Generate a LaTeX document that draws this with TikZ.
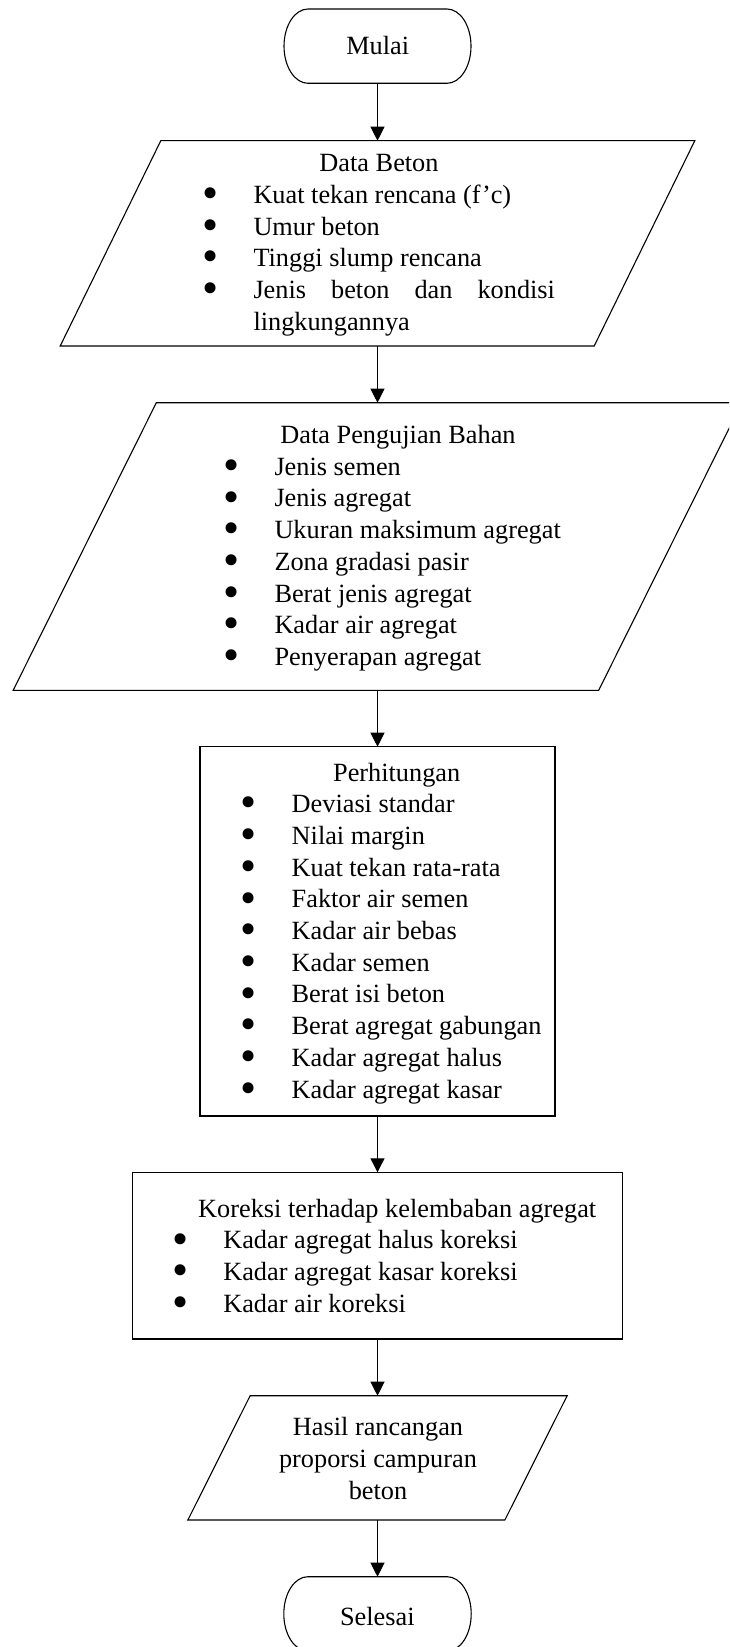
\documentclass[tikz,border=0pt]{standalone}
\usepackage{fontspec}
\setmainfont{Liberation Serif}
\usetikzlibrary{calc,arrows.meta}
\tikzset{
  base/.style={inner sep=0pt, outer sep=0pt},
  shapebox/.style={base, draw=none, rectangle},
  procbox/.style={base, draw, line width=0.55pt, rectangle},
  txt/.style={inner sep=0pt, outer sep=0pt, font=\fontsize{13.15pt}{15.85pt}\selectfont},
  outline/.style={draw, line width=0.55pt},
  flow/.style={draw, line width=0.55pt, -{Triangle[length=7pt,width=7pt]}},
}
\newcommand{\parashape}[2]{\path[outline] ($(#1.north west)+(#2,0)$) -- ($(#1.north east)+(#2,0)$) -- ($(#1.south east)-(#2,0)$) -- ($(#1.south west)-(#2,0)$) -- cycle;}
\newcommand{\termshape}[1]{\path[outline] ($(#1.north west)+(24,0)$) -- ($(#1.north east)-(24,0)$) arc[start angle=90,end angle=-90,x radius=12pt,y radius=18.575pt] -- ($(#1.south west)+(24,0)$) arc[start angle=270,end angle=90,x radius=12pt,y radius=18.575pt] -- cycle;}
\newcommand{\bl}{\llap{\makebox[0pt]{\raisebox{-2.6pt}{\scalebox{1.75}{\textbullet}}}\hspace{21.5pt}}}
\begin{document}
\begin{tikzpicture}[x=0.5pt,y=-0.5pt]
\useasboundingbox (0,0) rectangle (729,1647);
\clip (0,0) rectangle (729,1647);

% Mulai
\node[shapebox, minimum width=93.5pt, minimum height=37.15pt] (mulai) at (377.5,46.15) {};
\termshape{mulai}
\node[txt, anchor=base] (mulaitext) at (377.7,55) {Mulai};

% Data Beton
\node[shapebox, minimum width=267pt, minimum height=102.65pt] (db) at (377.5,243.35) {};
\parashape{db}{50.3}
\node[txt, anchor=base] (dbtitle) at (379,171.7) {Data Beton};
\node[txt, anchor=base west] (dblist) at (253.5,203.4) {\begin{tabular}[t]{@{}l@{}}
\bl Kuat tekan rencana (f’c)\\
\bl Umur beton\\
\bl Tinggi slump rencana\\
\bl \makebox[150.75pt][s]{Jenis beton dan kondisi}\\
lingkungannya
\end{tabular}};

% Data Pengujian Bahan
\node[shapebox, minimum width=292.75pt, minimum height=143.8pt] (dpb) at (377.5,546.5) {};
\parashape{dpb}{71.6}
\node[txt, anchor=base] (dpbtitle) at (398,443.5) {Data Pengujian Bahan};
\node[txt, anchor=base west] (dpblist) at (274.5,475.2) {\begin{tabular}[t]{@{}l@{}}
\bl Jenis semen\\
\bl Jenis agregat\\
\bl Ukuran maksimum agregat\\
\bl Zona gradasi pasir\\
\bl Berat jenis agregat\\
\bl Kadar air agregat\\
\bl Penyerapan agregat
\end{tabular}};

% Perhitungan
\node[procbox, minimum width=177.5pt, minimum height=184.65pt] (perh) at (377.5,931.35) {};
\node[txt, anchor=base] (perhtitle) at (396.7,781) {Perhitungan};
\node[txt, anchor=base west] (perhlist) at (291.7,812.7) {\begin{tabular}[t]{@{}l@{}}
\bl Deviasi standar\\
\bl Nilai margin\\
\bl Kuat tekan rata-rata\\
\bl Faktor air semen\\
\bl Kadar air bebas\\
\bl Kadar semen\\
\bl Berat isi beton\\
\bl Berat agregat gabungan\\
\bl Kadar agregat halus\\
\bl Kadar agregat kasar
\end{tabular}};

% Koreksi
\node[procbox, minimum width=245.35pt, minimum height=83.35pt] (kor) at (377.5,1255.65) {};
\node[txt, anchor=base] (kortitle) at (397.2,1217.3) {Koreksi terhadap kelembaban agregat};
\node[txt, anchor=base west] (korlist) at (223.3,1248.9) {\begin{tabular}[t]{@{}l@{}}
\bl Kadar agregat halus koreksi\\
\bl Kadar agregat kasar koreksi\\
\bl Kadar air koreksi
\end{tabular}};

% Hasil
\node[shapebox, minimum width=158.5pt, minimum height=62.15pt] (hasil) at (377.5,1457.85) {};
\parashape{hasil}{31.15}
\node[txt, anchor=base, font=\fontsize{13.15pt}{16pt}\selectfont] (hasiltext) at (378,1435) {\begin{tabular}[t]{@{}c@{}}
Hasil rancangan\\
proporsi campuran\\
beton
\end{tabular}};

% Selesai
\node[shapebox, minimum width=93.7pt, minimum height=37.15pt] (selesai) at (377.5,1613.85) {};
\termshape{selesai}
\node[txt, anchor=base] (selesaitext) at (377.3,1625) {Selesai};

% connectors
\draw[flow] (mulai.south) -- (db.north);
\draw[flow] (db.south) -- (dpb.north);
\draw[flow] (dpb.south) -- (perh.north);
\draw[flow] (perh.south) -- (kor.north);
\draw[flow] (kor.south) -- (hasil.north);
\draw[flow] (hasil.south) -- (selesai.north);
\end{tikzpicture}
\end{document}
